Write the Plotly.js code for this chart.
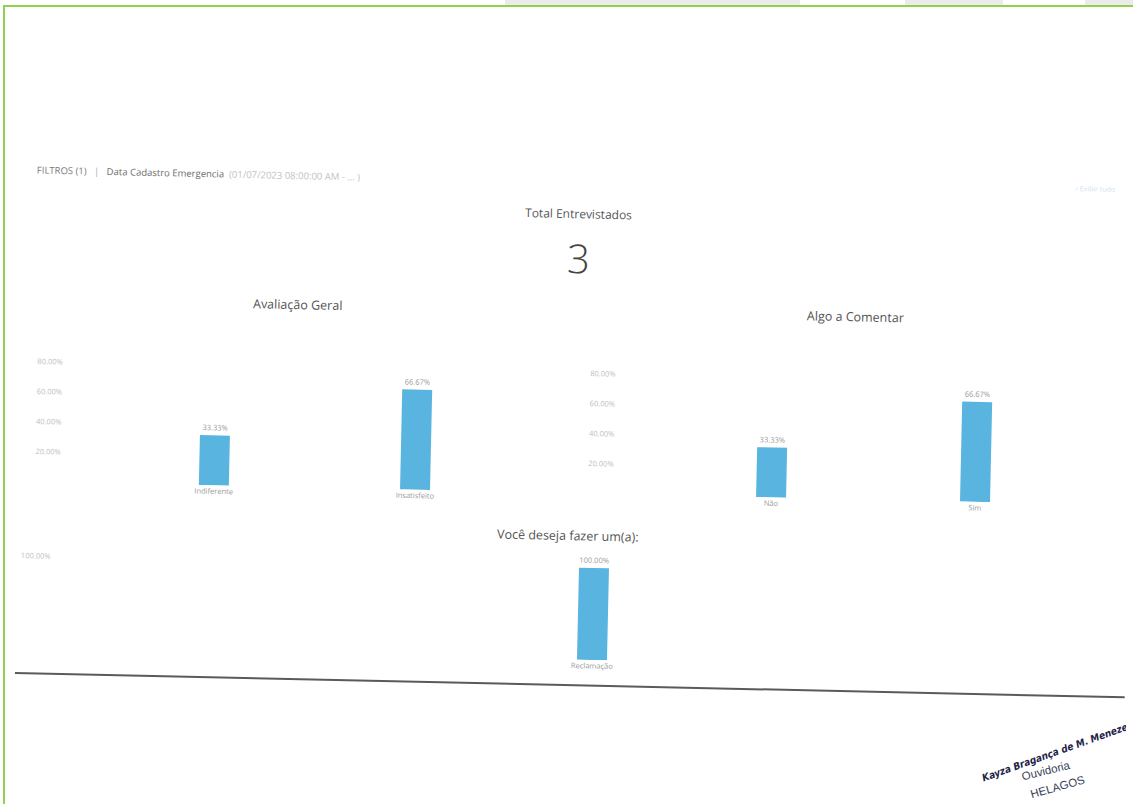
<!DOCTYPE html>
<html>
<head>
<meta charset="utf-8">
<script src="https://cdn.plot.ly/plotly-3.0.1.min.js"></script>
<style>
  html, body { margin:0; padding:0; background:#fff; overflow:hidden; }
  #wrap { position:relative; width:1133px; height:804px; overflow:hidden; background:#fff; }
  #chart { position:absolute; left:0; top:0; width:1133px; height:804px;
           transform: rotate(1.25deg); transform-origin: 566.5px 402px; }
  #chart path { shape-rendering: geometricPrecision !important; }
  .g { position:absolute; background:#92d050; z-index:5; }
  .s { position:absolute; background:#ebebeb; z-index:4; top:0; height:5px; }
</style>
</head>
<body>
<div id="wrap">
  <div id="chart"></div>
  <div class="s" style="left:505px;width:295px;"></div>
  <div class="s" style="left:905px;width:98px;"></div>
  <div class="s" style="left:1085px;width:48px;"></div>
  <div class="g" style="left:3px;top:5px;width:2px;height:799px;"></div>
  <div class="g" style="left:3px;top:5px;width:1130px;height:2px;"></div>
</div>
<script>
// ---- data ----
const cat1 = ['Indiferente', 'Insatisfeito'];
const val1 = [33.33, 66.67];
const cat2 = ['Não', 'Sim'];
const val2 = [33.33, 66.67];
const cat3 = ['Reclamação'];
const val3 = [100];
const tick12 = [20, 40, 60, 80];
const tick3 = [100];
const totalEntrevistados = 3;

// ---- layout helpers ----
const W = 1133, H = 804;
const fx = x => x / W;
const fy = y => 1 - y / H;
const barColor = '#59b5df';
const FONT = 'Open Sans, Noto Sans, sans-serif';
const pct = v => v.toFixed(2) + '%';

function barTrace(x, y, xa, ya, w) {
  return {
    type: 'bar', x: x, y: y, xaxis: xa, yaxis: ya, width: w,
    marker: { color: barColor },
    text: y.map(pct), textposition: 'outside', cliponaxis: false,
    textfont: { size: 7.5, color: '#9a9a9a', family: FONT },
    hoverinfo: 'skip', showlegend: false
  };
}

const data = [
  barTrace(cat1, val1, 'x', 'y', 0.149),
  barTrace(cat2, val2, 'x2', 'y2', 0.147),
  barTrace(cat3, val3, 'x3', 'y3', 0.15)
];

function xax(dom, rng, anchor) {
  return { domain: dom, range: rng, anchor: anchor, type: 'category',
    showgrid: false, zeroline: false, showline: false, ticks: '',
    tickfont: { size: 7.5, color: '#9a9a9a', family: FONT }, fixedrange: true };
}
function yax(dom, rng, anchor, tv) {
  return { domain: dom, range: rng, anchor: anchor,
    showgrid: false, zeroline: false, showline: false, ticks: '',
    tickmode: 'array', tickvals: tv, ticktext: tv.map(pct),
    tickfont: { size: 7.5, color: '#bdbdbd', family: FONT }, fixedrange: true };
}

function ann(text, x, y, size, color, extra) {
  return Object.assign({ text: text, x: fx(x), y: fy(y), xref: 'paper', yref: 'paper',
    showarrow: false, xanchor: 'center', yanchor: 'middle',
    font: { size: size, color: color, family: FONT } }, extra || {});
}

const layout = {
  width: W, height: H, margin: { l: 0, r: 0, t: 0, b: 0 },
  paper_bgcolor: 'rgba(0,0,0,0)', plot_bgcolor: 'rgba(0,0,0,0)',
  font: { family: FONT },
  bargap: 0,
  xaxis: xax([fx(63), fx(520)], [-0.759, 1.512], 'y'),
  yaxis: yax([fy(493), fy(356)], [0, 91.3], 'x', tick12),
  xaxis2: xax([fx(616), fx(1085)], [-0.770, 1.529], 'y2'),
  yaxis2: yax([fy(493), fy(356)], [0, 91.3], 'x2', tick12),
  xaxis3: xax([fx(55), fx(1100)], [-2.713, 2.512], 'y3'),
  yaxis3: yax([fy(659.4), fy(560)], [0, 108], 'x3', tick3),
  shapes: [
    { type: 'line', xref: 'paper', yref: 'paper', x0: fx(21), x1: fx(1131), y0: fy(685), y1: fy(685),
      line: { color: '#5a5a5a', width: 2 } }
  ],
  annotations: [
    ann('<span style="color:#7a7a7a">FILTROS (1)</span>   <span style="color:#aaa">|</span>   <span style="color:#6a6a6a">Data Cadastro Emergencia</span>  <span style="color:#c2c2c2">(01/07/2023 08:00:00 AM - ... )</span>',
        30, 181, 9.5, '#777', { xanchor: 'left' }),
    ann('‹ Exibir tudo', 1090, 177, 7, '#cfe2ef'),
    ann('Total Entrevistados', 574, 213, 12, '#555'),
    ann(String(totalEntrevistados), 575, 257, 40, '#444', { font: { size: 40, color: '#444', family: FONT, weight: 300 } }),
    ann('Avaliação Geral', 295, 310, 12.5, '#555'),
    ann('Algo a Comentar', 853, 310, 12.5, '#555'),
    ann('Você deseja fazer um(a):', 570, 535, 12.5, '#555'),
    ann('<b><i>Kayza Bragança de M. Menezes</i></b>', 1065, 740, 10, '#1c2448',
        { textangle: -21, font: { size: 10, color: '#1c2448', family: 'Liberation Sans Narrow, DejaVu Sans Condensed, sans-serif' } }),
    ann('Ouvidoria', 1054, 760, 11.5, '#3a3f5a',
        { textangle: -15, font: { size: 11.5, color: '#3a3f5a', family: 'Liberation Sans, sans-serif' } }),
    ann('HELAGOS', 1066, 776, 11.5, '#3a3f5a',
        { textangle: -17, font: { size: 11.5, color: '#3a3f5a', family: 'Liberation Sans, sans-serif' } })
  ]
};

Plotly.newPlot('chart', data, layout, { staticPlot: true, displayModeBar: false });
</script>
</body>
</html>
